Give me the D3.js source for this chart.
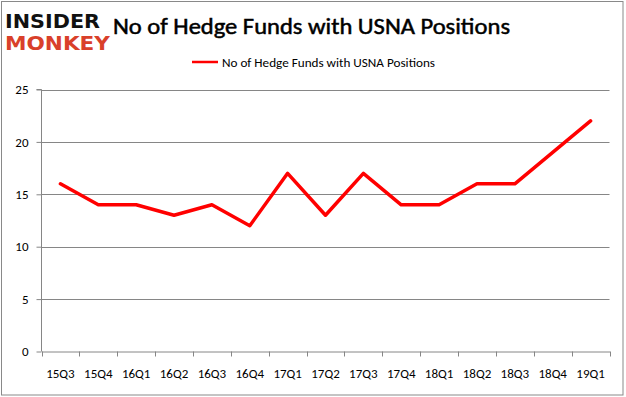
<!DOCTYPE html>
<html><head><meta charset="utf-8">
<script src="https://cdn.jsdelivr.net/npm/d3@7"></script>
<style>body{margin:0;background:#fff}svg{display:block}</style>
</head><body><svg id="c" width="626" height="397"></svg>
<script>
const categories = ["15Q3","15Q4","16Q1","16Q2","16Q3","16Q4","17Q1","17Q2","17Q3","17Q4","18Q1","18Q2","18Q3","18Q4","19Q1"];
const values = [16,14,14,13,14,12,17,13,17,14,14,16,16,19,22];
const yTicks = [0,5,10,15,20,25];
const seriesName = "No of Hedge Funds with USNA Positions";
const title = "No of Hedge Funds with USNA Positions";

const svg = d3.select("#c");
const font = "Carlito, Calibri, 'Open Sans', sans-serif";
// frame
svg.append("rect").attr("x",1.5).attr("y",1.5).attr("width",621.5).attr("height",393.5)
  .attr("fill","#fff").attr("stroke","#898989").attr("stroke-width",1);

const L=41.5, R=609.5, T=89.5, B=351.5;
const x = d3.scaleBand().domain(categories).range([L,R]);
const y = d3.scaleLinear().domain([0,25]).range([B,T]);

// gridlines
svg.append("g").selectAll("line").data(yTicks.filter(d=>d>0)).join("line")
  .attr("x1",L).attr("x2",R).attr("y1",d=>Math.round(y(d))+0.5).attr("y2",d=>Math.round(y(d))+0.5)
  .attr("stroke","#868686").attr("stroke-width",1);

// y axis
const ya = svg.append("g").attr("transform",`translate(${L},0)`)
  .call(d3.axisLeft(y).tickValues(yTicks).tickSize(5).tickPadding(8));
ya.select(".domain").attr("stroke","#868686").attr("d",`M-5,${T}H0V${B}`);
ya.selectAll(".tick line").attr("stroke","#868686");
ya.selectAll("text").attr("font-family",font).attr("font-size",13).attr("fill","#000");

// x axis
const xa = svg.append("g").attr("transform",`translate(0,${B})`)
  .call(d3.axisBottom(x).tickSize(0).tickPadding(17));
xa.select(".domain").attr("stroke","#868686");
xa.selectAll("text").attr("font-family",font).attr("font-size",13).attr("fill","#000");
// tick marks at band boundaries
const bounds = categories.map(c=>x(c)).concat([R]);
svg.append("g").selectAll("line").data(bounds).join("line")
  .attr("x1",d=>Math.round(d)+0.5).attr("x2",d=>Math.round(d)+0.5).attr("y1",B).attr("y2",B+5)
  .attr("stroke","#868686");

// line
const line = d3.line().x((d,i)=>x(categories[i])+x.bandwidth()/2).y(d=>y(d));
svg.append("path").datum(values).attr("d",line).attr("fill","none")
  .attr("stroke","#ff0000").attr("stroke-width",3.5).attr("stroke-linejoin","round").attr("stroke-linecap","round");

// legend
svg.append("line").attr("x1",192).attr("x2",218).attr("y1",62).attr("y2",62).attr("stroke","#ff0000").attr("stroke-width",2.5);
svg.append("text").attr("x",222).attr("y",66.5).attr("font-family",font).attr("font-size",13)
  .attr("textLength",213).attr("lengthAdjust","spacingAndGlyphs").text(seriesName);

// title
svg.append("text").attr("x",113).attr("y",34).attr("font-family",font).attr("font-size",23)
  .attr("stroke","#000").attr("stroke-width",0.5)
  .attr("textLength",397).attr("lengthAdjust","spacingAndGlyphs").text(title);

// logo
svg.append("text").attr("x",5).attr("y",28).attr("font-family","'DejaVu Sans', sans-serif").attr("font-weight","bold")
  .attr("font-size",20).attr("fill","#111").attr("textLength",95).attr("lengthAdjust","spacingAndGlyphs").text("INSIDER");
svg.append("text").attr("x",5).attr("y",50).attr("font-family","'DejaVu Sans', sans-serif").attr("font-weight","bold")
  .attr("font-size",20).attr("fill","#d9402a").attr("textLength",105).attr("lengthAdjust","spacingAndGlyphs").text("MONKEY");
</script></body></html>
